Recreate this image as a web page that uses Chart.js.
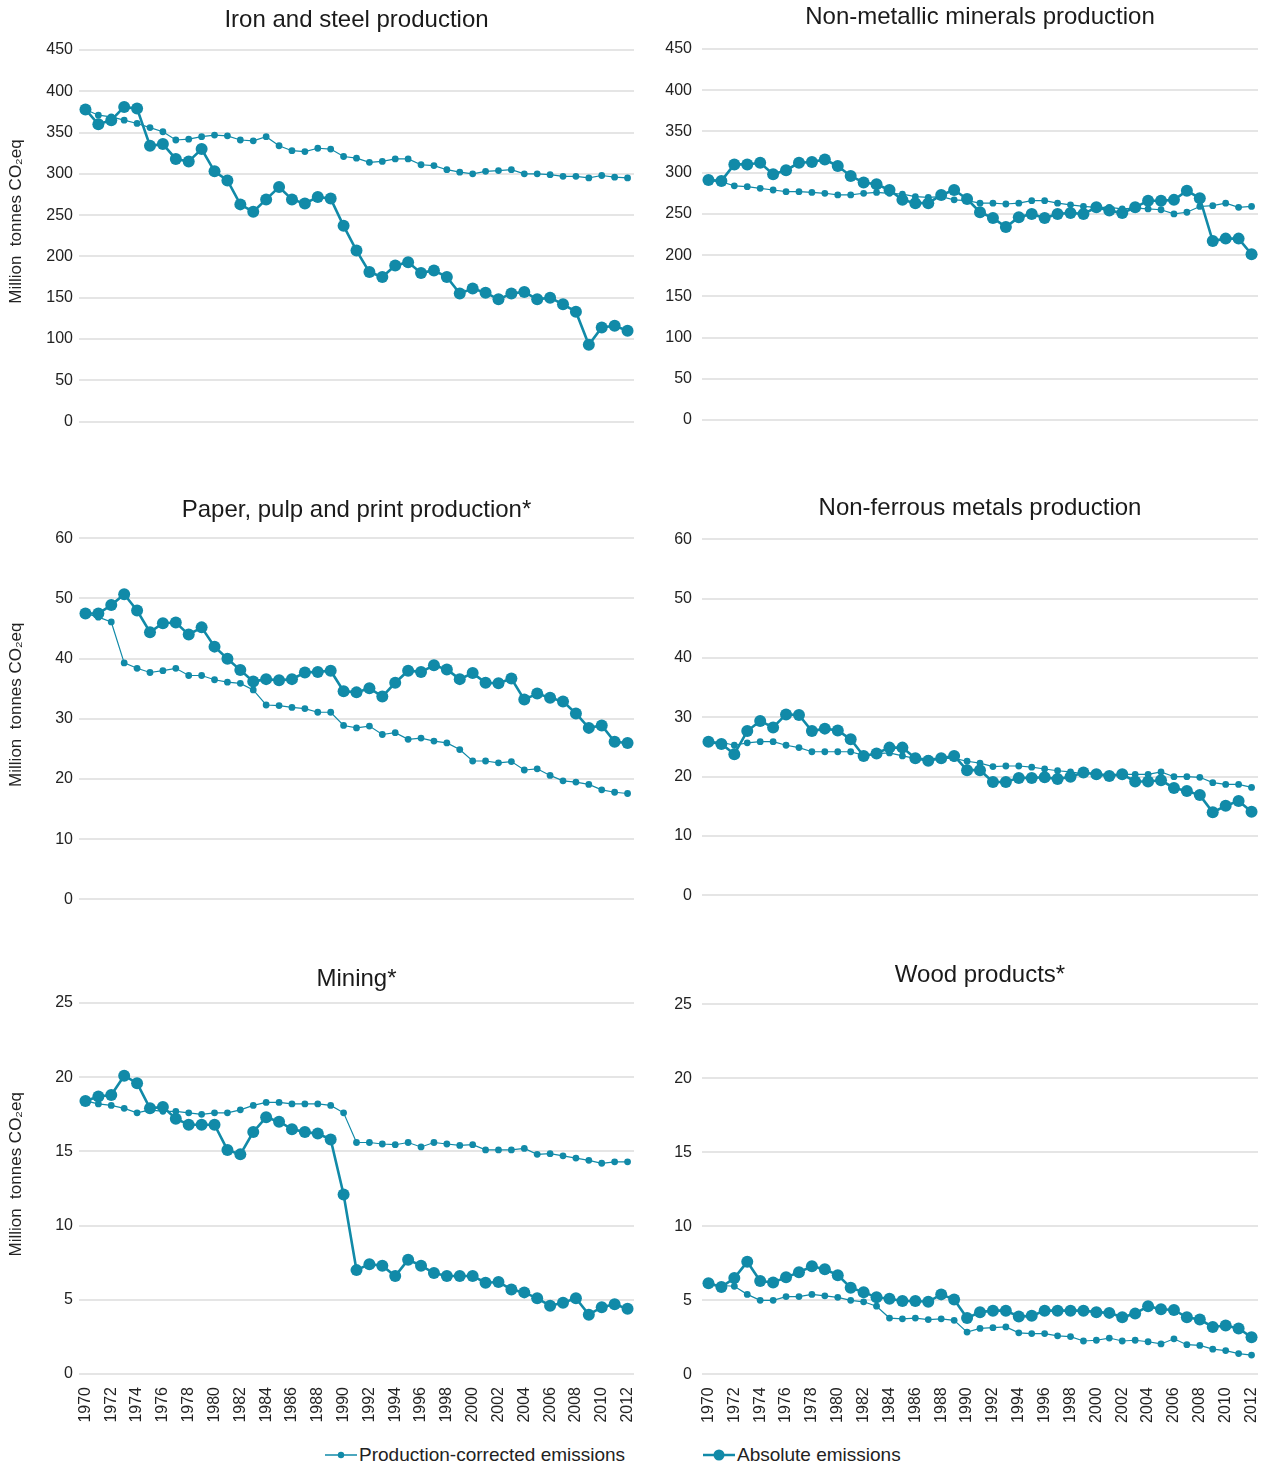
<!DOCTYPE html>
<html lang="en">
<head>
  <meta charset="UTF-8">
  <title>Industrial emissions 1970-2012</title>
  <script src="https://cdn.jsdelivr.net/npm/chart.js@4.4.0/dist/chart.umd.min.js"></script>
  <style>
    body { margin: 0; background: #fff; font-family: "Liberation Sans", Arial, sans-serif; }
    .page { position: relative; width: 1268px; height: 1465px; overflow: hidden; }
    .panel { position: absolute; }
    .legend { position: absolute; top: 1443px; height: 24px; font-size: 19px; color: #222; display: flex; align-items: center; white-space: nowrap; }
    .legend svg { margin-right: 2px; }
  </style>
</head>
<body>
  <div class="page" id="page">
    <div class="legend" style="left:325px">
      <svg width="32" height="12"><line x1="0" y1="6" x2="32" y2="6" stroke="#118aa8" stroke-width="1.5"/><circle cx="16" cy="6" r="3.2" fill="#118aa8"/></svg>Production-corrected emissions
    </div>
    <div class="legend" style="left:703px">
      <svg width="32" height="14"><line x1="0" y1="7" x2="32" y2="7" stroke="#118aa8" stroke-width="2.5"/><circle cx="16" cy="7" r="5.5" fill="#118aa8"/></svg>Absolute emissions
    </div>
  </div>

  <script>
    // Data
    const years = ['1970','1971','1972','1973','1974','1975','1976','1977','1978','1979',
                   '1980','1981','1982','1983','1984','1985','1986','1987','1988','1989',
                   '1990','1991','1992','1993','1994','1995','1996','1997','1998','1999',
                   '2000','2001','2002','2003','2004','2005','2006','2007','2008','2009',
                   '2010','2011','2012'];
    const tickYears = ['1970','1972','1974','1976','1978','1980','1982','1984','1986','1988','1990',
                       '1992','1994','1996','1998','2000','2002','2004','2006','2008','2010','2012'];

    const panelTitles = ['Iron and steel production', 'Non-metallic minerals production',
                         'Paper, pulp and print production*', 'Non-ferrous metals production',
                         'Mining*', 'Wood products*'];
    const yMax = [450, 450, 60, 60, 25, 25];
    const yStep = [50, 50, 10, 10, 5, 5];

    const ironAbs = [378,360,365,381,379,334,336,318,315,330, 303,292,263,254,269,284,269,264,272,270,
                     237,207,181,175,189,193,180,183,175,155, 161,156,148,155,157,148,150,142,133,93, 114,116,110];
    const ironProd = [378,371,369,365,361,356,351,341,342,345, 347,346,341,340,345,334,328,327,331,330,
                      321,319,314,315,318,318,311,310,305,302, 300,303,304,305,300,300,299,297,297,295, 298,296,295];

    const mineralsAbs = [291,290,310,310,312,298,303,312,313,316, 308,296,288,286,279,267,263,263,273,279,
                         268,252,245,234,246,250,245,250,251,250, 258,254,251,258,266,266,267,278,269,217, 220,220,201];
    const mineralsProd = [291,289,284,283,281,279,277,277,276,275, 273,273,275,276,275,274,271,270,271,267,
                          266,263,263,262,263,266,266,263,261,259, 258,258,256,257,256,255,250,252,259,260, 263,258,259];

    const paperAbs = [47.5,47.5,48.9,50.7,48.0,44.4,45.9,46.0,44.0,45.2, 42.0,40.0,38.1,36.2,36.6,36.4,36.6,37.7,37.8,38.0,
                      34.6,34.4,35.1,33.7,36.0,38.0,37.8,38.9,38.2,36.6, 37.6,36.0,35.9,36.7,33.2,34.2,33.5,32.9,30.9,28.5, 28.9,26.2,26.0];
    const paperProd = [47.5,46.9,46.1,39.3,38.4,37.7,38.0,38.4,37.2,37.2, 36.5,36.1,35.9,34.8,32.3,32.2,31.9,31.7,31.1,31.1,
                       28.9,28.5,28.8,27.4,27.7,26.6,26.8,26.3,26.0,24.9, 23.0,23.0,22.7,22.9,21.5,21.7,20.6,19.7,19.5,19.1, 18.2,17.8,17.6];

    const nonferrousAbs = [25.9,25.5,23.8,27.7,29.4,28.3,30.5,30.4,27.7,28.1, 27.8,26.3,23.5,23.9,24.9,24.9,23.1,22.7,23.1,23.5,
                           21.1,21.1,19.1,19.1,19.8,19.8,19.9,19.6,20.0,20.7, 20.4,20.1,20.4,19.2,19.2,19.4,18.1,17.6,16.9,14.0, 15.1,15.9,14.1];
    const nonferrousProd = [25.9,25.8,25.3,25.7,25.9,25.9,25.3,24.9,24.2,24.2, 24.2,24.2,23.6,23.9,24.0,23.5,23.1,23.1,23.1,23.1,
                            22.6,22.3,21.7,21.8,21.8,21.6,21.3,21.0,20.8,20.5, 20.5,20.4,20.4,20.4,20.4,20.8,20.0,20.0,19.9,19.0, 18.7,18.7,18.2];

    const miningAbs = [18.4,18.7,18.8,20.1,19.6,17.9,18.0,17.2,16.8,16.8, 16.8,15.1,14.8,16.3,17.3,17.0,16.5,16.3,16.2,15.8,
                       12.1,7.0,7.4,7.3,6.6,7.7,7.3,6.8,6.6,6.6, 6.6,6.15,6.2,5.7,5.5,5.1,4.6,4.8,5.1,4.0, 4.5,4.7,4.4];
    const miningProd = [18.4,18.2,18.1,17.9,17.6,17.8,17.7,17.7,17.6,17.5, 17.6,17.6,17.8,18.1,18.3,18.3,18.2,18.2,18.2,18.1,
                        17.6,15.6,15.6,15.5,15.45,15.6,15.3,15.6,15.5,15.4, 15.45,15.1,15.1,15.1,15.2,14.8,14.85,14.7,14.55,14.4, 14.2,14.3,14.3];

    const woodAbs = [6.15,5.9,6.5,7.6,6.3,6.2,6.55,6.9,7.3,7.1, 6.7,5.85,5.55,5.2,5.1,4.95,4.95,4.9,5.4,5.05,
                     3.8,4.2,4.3,4.3,3.9,3.95,4.3,4.3,4.3,4.3, 4.2,4.15,3.85,4.1,4.6,4.4,4.35,3.85,3.7,3.2, 3.3,3.1,2.5];
    const woodProd = [6.15,6.0,5.95,5.4,5.0,5.0,5.25,5.25,5.4,5.3, 5.2,5.0,4.9,4.6,3.8,3.75,3.8,3.7,3.75,3.65,
                      2.85,3.1,3.15,3.2,2.8,2.75,2.75,2.6,2.55,2.25, 2.3,2.45,2.25,2.3,2.2,2.05,2.4,2.0,1.95,1.7, 1.6,1.4,1.3];

    const absSeries = [ironAbs, mineralsAbs, paperAbs, nonferrousAbs, miningAbs, woodAbs];
    const prodSeries = [ironProd, mineralsProd, paperProd, nonferrousProd, miningProd, woodProd];

    // Layout (page pixels): column, canvas top/height, title centre, plot top/bottom
    const layout = [
      { col: 0, top: 0,   height: 440, titleY: 20.5,  plotTop: 50,     plotBottom: 421.5 },
      { col: 1, top: 0,   height: 440, titleY: 17.5,  plotTop: 49,     plotBottom: 420 },
      { col: 0, top: 470, height: 445, titleY: 510.5, plotTop: 538.3,  plotBottom: 909 },
      { col: 1, top: 470, height: 445, titleY: 508,   plotTop: 539.3,  plotBottom: 908.7 },
      { col: 0, top: 940, height: 490, titleY: 979,   plotTop: 1003,   plotBottom: 1374 },
      { col: 1, top: 940, height: 490, titleY: 975,   plotTop: 1004.3, plotBottom: 1374.3 }
    ];

    const teal = '#118aa8';
    const fontFamily = '"Liberation Sans", Arial, sans-serif';
    const page = document.getElementById('page');

    function makeChart(i) {
      const L = layout[i];
      const isLeft = L.col === 0;
      const canvasLeft = isLeft ? 0 : 640;
      const canvasWidth = isLeft ? 640 : 628;
      const plotLeft = isLeft ? 79 : 702;
      const plotRight = isLeft ? 634 : 1258;

      const wrap = document.createElement('div');
      wrap.className = 'panel';
      wrap.style.left = canvasLeft + 'px';
      wrap.style.top = L.top + 'px';
      wrap.style.width = canvasWidth + 'px';
      wrap.style.height = L.height + 'px';
      const cv = document.createElement('canvas');
      wrap.appendChild(cv);
      page.appendChild(wrap);

      const titleSize = 24, titleLine = titleSize * 1.2;
      const padTop = L.titleY - L.top - titleLine / 2;
      const padBottom = L.plotTop - L.top - padTop - titleLine;
      const xHeight = L.top + L.height - L.plotBottom;
      const bottomRow = i >= 4;

      new Chart(cv, {
        type: 'line',
        data: {
          labels: years,
          datasets: [
            {
              label: 'Absolute emissions',
              data: absSeries[i],
              borderColor: teal, backgroundColor: teal,
              pointBackgroundColor: teal, pointBorderColor: teal,
              borderWidth: 2.6, pointRadius: 6, pointHoverRadius: 6, pointBorderWidth: 0,
              tension: 0
            },
            {
              label: 'Production-corrected emissions',
              data: prodSeries[i],
              borderColor: teal, backgroundColor: teal,
              pointBackgroundColor: teal, pointBorderColor: teal,
              borderWidth: 1.2, pointRadius: 3.4, pointHoverRadius: 3.4, pointBorderWidth: 0,
              tension: 0
            }
          ]
        },
        options: {
          responsive: true,
          maintainAspectRatio: false,
          animation: false,
          layout: { padding: { left: 0, right: canvasLeft + canvasWidth - plotRight, top: 0, bottom: 0 } },
          plugins: {
            legend: { display: false },
            tooltip: { enabled: false },
            title: {
              display: true,
              fullSize: false,
              text: panelTitles[i],
              color: '#1a1a1a',
              font: { family: fontFamily, size: titleSize, weight: 'normal', lineHeight: 1.2 },
              padding: { top: padTop, bottom: padBottom }
            }
          },
          scales: {
            x: {
              offset: true,
              grid: { display: false },
              border: { display: false },
              ticks: {
                display: bottomRow,
                autoSkip: false,
                minRotation: 90,
                maxRotation: 90,
                padding: 5,
                color: '#222',
                font: { family: fontFamily, size: 16 },
                callback: (v, idx) => tickYears.includes(years[idx]) ? years[idx] : ''
              },
              afterFit: s => {
                s.height = xHeight;
                s.paddingLeft = 0;
                s.paddingRight = 0;
              }
            },
            y: {
              min: 0,
              max: yMax[i],
              ticks: {
                stepSize: yStep[i],
                padding: isLeft ? 6 : 10,
                color: '#222',
                font: { family: fontFamily, size: 16 }
              },
              grid: { color: '#e5e5e5', lineWidth: 2, drawTicks: false },
              border: { display: false },
              title: {
                display: isLeft,
                text: '      Million  tonnes CO\u2082eq',
                color: '#222',
                font: { family: fontFamily, size: 17 },
                padding: { top: 6, bottom: 0 }
              },
              afterFit: s => { s.width = plotLeft - canvasLeft; }
            }
          }
        }
      });
    }

    for (let i = 0; i < 6; i++) makeChart(i);
  </script>
</body>
</html>
